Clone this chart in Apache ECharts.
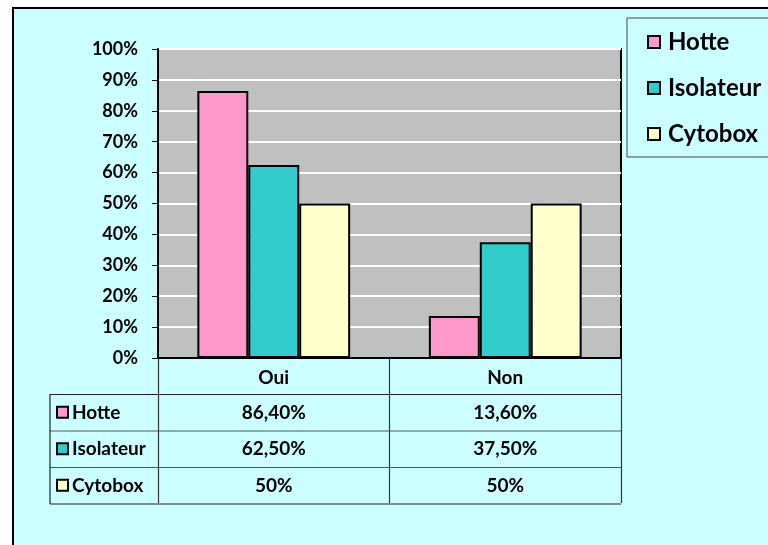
<!DOCTYPE html>
<html>
<head>
<meta charset="utf-8">
<script src="https://cdn.jsdelivr.net/npm/echarts@6/dist/echarts.min.js"></script>
<style>
  html, body { margin: 0; padding: 0; background: #fff; }
  #chart { width: 768px; height: 545px; }
</style>
</head>
<body>
<div id="chart"></div>
<script>
// données
const categories = ['Oui', 'Non']
const seriesNames = ['Hotte', 'Isolateur', 'Cytobox']
const hotte = [86.4, 13.6]
const isolateur = [62.5, 37.5]
const cytobox = [50, 50]
const tableLabels = [['86,40%', '13,60%'], ['62,50%', '37,50%'], ['50%', '50%']]

const colors = ['#FF99CC', '#33CCCC', '#FFFFCC']
const font = 'Lato, "Open Sans", sans-serif'

// mise en page
const gridLeft = 158, gridTop = 49, gridW = 463, gridH = 309
const rowH = 36.5
const tableLeft = 50
const tableTop = gridTop + gridH + rowH

const chart = echarts.init(document.getElementById('chart'))

const values = [hotte, isolateur, cytobox]
const graphics = [
  {
    type: 'rect', z: -10, silent: true,
    shape: { x: 13, y: 8, width: 800, height: 600 },
    style: { fill: '#CCFFFF', stroke: '#000', lineWidth: 2 }
  }
]

// lignes horizontales du tableau
for (let r = 0; r <= seriesNames.length; r++) {
  const y = tableTop + r * rowH
  graphics.push({
    type: 'line', silent: true, z: 5,
    shape: { x1: tableLeft, y1: y, x2: gridLeft + gridW, y2: y },
    style: { stroke: r === 0 || r === seriesNames.length ? '#222' : '#555', lineWidth: 1.2 }
  })
}
graphics.push({
  type: 'line', silent: true, z: 5,
  shape: { x1: tableLeft, y1: tableTop, x2: tableLeft, y2: tableTop + rowH * seriesNames.length },
  style: { stroke: '#222', lineWidth: 1.2 }
})

// cellules
seriesNames.forEach((name, r) => {
  const cy = tableTop + (r + 0.5) * rowH
  graphics.push({
    type: 'rect', silent: true, z: 6,
    shape: { x: tableLeft + 7, y: cy - 6, width: 11, height: 11 },
    style: { fill: colors[r], stroke: '#000', lineWidth: 2 }
  })
  graphics.push({
    type: 'text', silent: true, z: 6,
    style: {
      x: tableLeft + 22, y: cy, text: name, fill: '#000',
      font: 'bold 19px ' + font, verticalAlign: 'middle', align: 'left'
    }
  })
  categories.forEach((c, i) => {
    graphics.push({
      type: 'text', silent: true, z: 6,
      style: {
        x: gridLeft + (i + 0.5) * gridW / categories.length, y: cy,
        text: tableLabels[r][i], fill: '#000',
        font: 'bold 19px ' + font, verticalAlign: 'middle', align: 'center'
      }
    })
  })
})

const series = seriesNames.map((name, i) => ({
  name: name,
  type: 'bar',
  data: values[i],
  barGap: 0,
  barCategoryGap: '34%',
  itemStyle: { color: colors[i], borderColor: '#000', borderWidth: 2 },
  emphasis: { disabled: true }
}))

chart.setOption({
  backgroundColor: '#fff',
  animation: false,
  textStyle: { fontFamily: font },
  grid: {
    left: gridLeft, top: gridTop, width: gridW, height: gridH,
    show: true, backgroundColor: '#C0C0C0', borderColor: '#000', borderWidth: 2
  },
  legend: {
    orient: 'vertical',
    left: 627, top: 18,
    data: seriesNames.map(n => ({ name: n, itemStyle: { borderColor: '#000', borderWidth: 2 } })),
    icon: 'rect',
    backgroundColor: '#CCFFFF',
    borderColor: '#444', borderWidth: 1, borderRadius: 0,
    padding: [12, 40, 11, 20],
    itemWidth: 12, itemHeight: 12,
    itemGap: 22,
    textStyle: { fontSize: 24, fontWeight: 'bold', color: '#000', fontFamily: font, padding: [0, 0, 0, 3] },
    selectedMode: false
  },
  xAxis: {
    type: 'category',
    data: categories,
    axisLine: { lineStyle: { color: '#000', width: 2 } },
    axisTick: { show: true, length: 145, lineStyle: { color: '#333', width: 1.2 } },
    axisLabel: { color: '#000', fontSize: 19, fontWeight: 'bold', margin: 10 }
  },
  yAxis: {
    type: 'value',
    min: 0, max: 100, interval: 10,
    axisLine: { show: true, lineStyle: { color: '#000', width: 2 } },
    axisTick: { show: true, length: 6, lineStyle: { color: '#000' } },
    axisLabel: { color: '#000', fontSize: 18, fontWeight: 'bold', margin: 20, formatter: '{value}%' },
    splitLine: { lineStyle: { color: '#fff', width: 2 } }
  },
  graphic: graphics,
  series: series
})
</script>
</body>
</html>
